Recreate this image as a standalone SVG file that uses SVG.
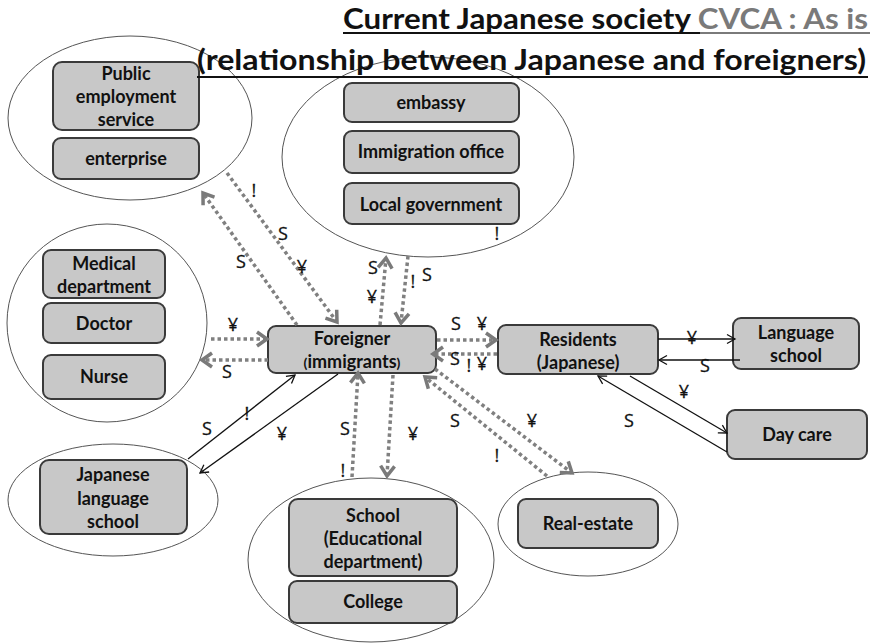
<svg xmlns="http://www.w3.org/2000/svg" width="871" height="643" viewBox="0 0 871 643">
<defs>
<style>
.ell{fill:#ffffff;stroke:#555555;stroke-width:1}
.box{fill:#c8c8c8;stroke:#3a3a3a;stroke-width:2}
.bt{font-family:Lato,"Open Sans","Liberation Sans",sans-serif;font-weight:bold;font-size:18px;fill:#111111;text-anchor:middle}
.lb{font-family:"Open Sans",Lato,"Liberation Sans",sans-serif;font-size:18px;fill:#111111;stroke:#111111;stroke-width:0.3;text-anchor:middle}
.dot{fill:none;stroke:#808080;stroke-width:3.5;stroke-dasharray:3.5 3}
.sol{fill:none;stroke:#111111;stroke-width:1.3}
.ttl{font-family:Lato,"Open Sans","Liberation Sans",sans-serif;font-weight:bold;font-size:28px;fill:#111111}
</style>
<marker id="ga" markerUnits="userSpaceOnUse" markerWidth="16" markerHeight="18" refX="12" refY="8" orient="auto" overflow="visible">
<path d="M2,1 L12,8 L2,15" fill="none" stroke="#7a7a7a" stroke-width="3.5"/>
</marker>
<marker id="ba" markerUnits="userSpaceOnUse" markerWidth="12" markerHeight="12" refX="9" refY="5" orient="auto" overflow="visible">
<path d="M1,0.5 L9,5 L1,9.5" fill="none" stroke="#111111" stroke-width="1.3"/>
</marker>
</defs>
<rect width="871" height="643" fill="#ffffff"/>

<g id="cluster-employment">
<ellipse class="ell" cx="130" cy="118" rx="122" ry="82"/>
<g id="public-employment"><rect class="box" x="53" y="62" width="146" height="68" rx="9"/>
<text class="bt" x="126" y="80">Public</text><text class="bt" x="126" y="103">employment</text><text class="bt" x="126" y="126">service</text></g>
<g id="enterprise"><rect class="box" x="53" y="138" width="146" height="41" rx="8"/>
<text class="bt" x="126" y="165">enterprise</text></g>
</g>

<g id="cluster-government">
<ellipse class="ell" cx="428" cy="157" rx="146" ry="100"/>
<g id="embassy"><rect class="box" x="344" y="83" width="175" height="39" rx="8"/>
<text class="bt" x="431" y="109">embassy</text></g>
<g id="immigration"><rect class="box" x="344" y="131" width="175" height="42" rx="8"/>
<text class="bt" x="431" y="158">Immigration office</text></g>
<g id="local-government"><rect class="box" x="344" y="183" width="175" height="41" rx="8"/>
<text class="bt" x="431" y="211">Local government</text></g>
</g>

<g id="cluster-medical">
<ellipse class="ell" cx="107" cy="323" rx="100" ry="99"/>
<g id="medical-department"><rect class="box" x="43" y="250" width="122" height="48" rx="8"/>
<text class="bt" x="104" y="270">Medical</text><text class="bt" x="104" y="293">department</text></g>
<g id="doctor"><rect class="box" x="43" y="303" width="122" height="40" rx="8"/>
<text class="bt" x="104" y="330">Doctor</text></g>
<g id="nurse"><rect class="box" x="43" y="355" width="122" height="44" rx="8"/>
<text class="bt" x="104" y="383">Nurse</text></g>
</g>

<g id="cluster-jls">
<ellipse class="ell" cx="113" cy="500" rx="105" ry="56"/>
<g id="japanese-language-school"><rect class="box" x="40" y="460" width="147" height="74" rx="9"/>
<text class="bt" x="113" y="481">Japanese</text><text class="bt" x="113" y="505">language</text><text class="bt" x="113" y="528">school</text></g>
</g>

<g id="cluster-school">
<ellipse class="ell" cx="371" cy="560" rx="123" ry="82"/>
<g id="school"><rect class="box" x="289" y="499" width="168" height="77" rx="9"/>
<text class="bt" x="373" y="522">School</text><text class="bt" x="373" y="545">(Educational</text><text class="bt" x="373" y="568">department)</text></g>
<g id="college"><rect class="box" x="289" y="581" width="168" height="42" rx="8"/>
<text class="bt" x="373" y="608">College</text></g>
</g>

<g id="cluster-realestate">
<ellipse class="ell" cx="588" cy="524" rx="90" ry="52"/>
<g id="real-estate"><rect class="box" x="518" y="499" width="140" height="49" rx="8"/>
<text class="bt" x="588" y="530">Real-estate</text></g>
</g>

<g id="foreigner"><rect class="box" x="268" y="326" width="168" height="47" rx="8"/>
<text class="bt" x="352" y="345">Foreigner</text>
<text class="bt" x="352" y="368"><tspan font-size="14">(</tspan>immigrants<tspan font-size="14">)</tspan></text></g>

<g id="residents"><rect class="box" x="498" y="325" width="160" height="49" rx="8"/>
<text class="bt" x="578" y="346">Residents</text><text class="bt" x="578" y="369">(Japanese)</text></g>

<g id="language-school"><rect class="box" x="733" y="318" width="126" height="51" rx="8"/>
<text class="bt" x="796" y="339">Language</text><text class="bt" x="796" y="362">school</text></g>

<g id="day-care"><rect class="box" x="727" y="410" width="140" height="49" rx="8"/>
<text class="bt" x="797" y="441">Day care</text></g>

<g id="connectors">
<path class="dot" d="M297,325 L203,193" marker-end="url(#ga)"/>
<path class="dot" d="M227,173 L337,322" marker-end="url(#ga)"/>
<path class="dot" d="M380,325 L386,258" marker-end="url(#ga)"/>
<path class="dot" d="M408,256 L401,323" marker-end="url(#ga)"/>
<path class="dot" d="M211,339 L267,339" marker-end="url(#ga)"/>
<path class="dot" d="M268,360 L202,360" marker-end="url(#ga)"/>
<path class="dot" d="M437,340 L496,340" marker-end="url(#ga)"/>
<path class="dot" d="M497,354 L433,354" marker-end="url(#ga)"/>
<path class="dot" d="M547,476 L425,377" marker-end="url(#ga)"/>
<path class="dot" d="M435,369 L572,473" marker-end="url(#ga)"/>
<path class="dot" d="M352,477 L358,373" marker-end="url(#ga)"/>
<path class="dot" d="M393,375 L387,476" marker-end="url(#ga)"/>
<path class="sol" d="M188,459 L295,375" marker-end="url(#ba)"/>
<path class="sol" d="M338,374 L200,473" marker-end="url(#ba)"/>
<path class="sol" d="M658,339 L735,339" marker-end="url(#ba)"/>
<path class="sol" d="M740,360 L659,360" marker-end="url(#ba)"/>
<path class="sol" d="M630,376 L727,433" marker-end="url(#ba)"/>
<path class="sol" d="M727,452 L598,376" marker-end="url(#ba)"/>
</g>

<g id="labels">
<text class="lb" x="241" y="268">S</text>
<text class="lb" x="254" y="197">!</text>
<text class="lb" x="283" y="240">S</text>
<text class="lb" x="302" y="273">¥</text>
<text class="lb" x="373" y="274">S</text>
<text class="lb" x="372" y="303">¥</text>
<text class="lb" x="413" y="288">!</text>
<text class="lb" x="427" y="281">S</text>
<text class="lb" x="497" y="240">!</text>
<text class="lb" x="233" y="331">¥</text>
<text class="lb" x="227" y="378">S</text>
<text class="lb" x="456" y="330">S</text>
<text class="lb" x="482" y="330">¥</text>
<text class="lb" x="455" y="365">S</text>
<text class="lb" x="469" y="372">!</text>
<text class="lb" x="482" y="370">¥</text>
<text class="lb" x="455" y="427">S</text>
<text class="lb" x="532" y="427">¥</text>
<text class="lb" x="497" y="462">!</text>
<text class="lb" x="345" y="435">S</text>
<text class="lb" x="343" y="477">!</text>
<text class="lb" x="413" y="440">¥</text>
<text class="lb" x="207" y="435">S</text>
<text class="lb" x="247" y="420">!</text>
<text class="lb" x="282" y="440">¥</text>
<text class="lb" x="692" y="344">¥</text>
<text class="lb" x="705" y="372">S</text>
<text class="lb" x="684" y="398">¥</text>
<text class="lb" x="629" y="427">S</text>
</g>

<g id="title">
<text class="ttl" x="343" y="29" textLength="525" lengthAdjust="spacingAndGlyphs">Current Japanese society <tspan fill="#7a7a7a">CVCA : As is</tspan></text>
<line x1="343" y1="33" x2="700" y2="33" stroke="#111111" stroke-width="2"/>
<line x1="700" y1="33" x2="870" y2="33" stroke="#7a7a7a" stroke-width="2"/>
<text class="ttl" x="197" y="70" textLength="669" lengthAdjust="spacingAndGlyphs">(relationship between Japanese and foreigners)</text>
<line x1="197" y1="77" x2="868" y2="77" stroke="#111111" stroke-width="2"/>
</g>
</svg>
